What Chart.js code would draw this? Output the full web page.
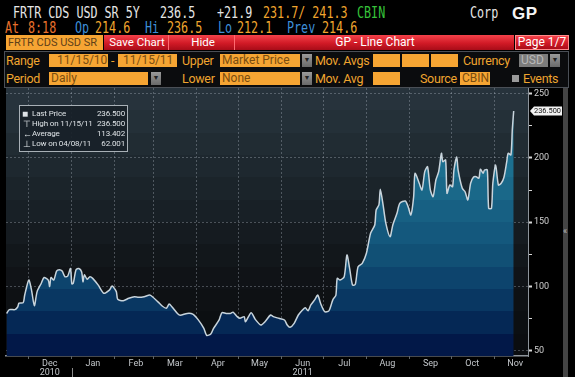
<!DOCTYPE html>
<html lang="en">
  <head>
    <meta charset="UTF-8" />
    <title>FRTR CDS USD SR 5Y - GP Line Chart</title>
    <script src="https://cdn.jsdelivr.net/npm/chart.js"></script>
    <style>
      body {
        margin: 0;
        width: 575px;
        height: 377px;
        background: #000;
        overflow: hidden;
        position: relative;
        font-family: Roboto, sans-serif;
      }
      .m {
        position: absolute;
        font: 15px "DejaVu Sans Mono", monospace;
        line-height: 15px;
        white-space: pre;
        transform: scaleX(0.78);
        transform-origin: 0 0;
      }
      .w { color: #e6e6e6; }
      .o { color: #f0a52e; }
      .r { color: #e8702c; }
      .b { color: #3d8fd8; }
      .g { color: #36c23a; }
      .bar {
        position: absolute;
        top: 35px;
        height: 15px;
        line-height: 15px;
        font-size: 11.5px;
        color: #fff;
        text-align: center;
        background: linear-gradient(#f4424a, #d11a26 55%, #a80c18);
        box-sizing: border-box;
        white-space: nowrap;
      }
      .panel {
        position: absolute;
        left: 4px;
        top: 51px;
        width: 565px;
        height: 37px;
        border: 1px solid #4a4f56;
        box-sizing: border-box;
        background: #0b0c0e;
      }
      .lbl {
        position: absolute;
        height: 13px;
        line-height: 13px;
        font-size: 12.5px;
        letter-spacing: -0.3px;
        color: #f0a52e;
        white-space: pre;
      }
      .box {
        position: absolute;
        height: 13px;
        line-height: 13px;
        font-size: 12px;
        background: #f6a533;
        color: #7a4d10;
        padding-left: 2px;
        box-sizing: border-box;
        white-space: pre;
      }
      .dd {
        position: absolute;
        width: 10px;
        height: 13px;
        background: linear-gradient(#9a9a9a, #6a6a6a);
        font-size: 7px;
        line-height: 13px;
        text-align: center;
        color: #222;
      }
      #legendBox {
        position: absolute;
        left: 19px;
        top: 105px;
        width: 109px;
        height: 47px;
        border: 1px solid #a8b0b6;
        box-sizing: border-box;
        background: rgba(24, 33, 40, 0.92);
        padding: 3px 2px 0 12px;
        font-size: 8px;
        letter-spacing: -0.15px;
        color: #dde2e6;
        z-index: 2;
      }
      #legendBox div {
        position: relative;
        height: 10px;
        line-height: 10px;
        display: flex;
        justify-content: space-between;
        white-space: nowrap;
      }
      #legendBox i {
        position: absolute;
        left: -9px;
        font-style: normal;
        font-size: 9px;
      }
      #chartWrap {
        position: absolute;
        left: 0;
        top: 88px;
        width: 575px;
        height: 289px;
      }
      #scroll {
        position: absolute;
        left: 563px;
        top: 88px;
        width: 5px;
        height: 289px;
        background: #444;
        color: #bbb;
        font-size: 9px;
        z-index: 2;
      }
    </style>
  </head>
  <body>
    <!-- top quote lines -->
    <div class="m w" style="left: 13px; top: 6px">FRTR CDS USD SR 5Y</div>
    <div class="m w" style="left: 160px; top: 6px">236.5</div>
    <div class="m w" style="left: 217px; top: 6px">+21.9</div>
    <div class="m o" style="left: 263px; top: 6px">231.7/ 241.3</div>
    <div class="m g" style="left: 357px; top: 6px">CBIN</div>
    <div class="m w" style="left: 470px; top: 6px">Corp</div>
    <div style="position: absolute; left: 512px; top: 4px; font: bold 17px 'Liberation Sans', Arial, sans-serif; color: #f4f4f4; letter-spacing: 0.5px">GP</div>

    <div class="m r" style="left: 5px; top: 21px">At</div>
    <div class="m r" style="left: 28px; top: 21px">8:18</div>
    <div class="m b" style="left: 75px; top: 21px">Op</div>
    <div class="m o" style="left: 95px; top: 21px">214.6</div>
    <div class="m b" style="left: 145px; top: 21px">Hi</div>
    <div class="m o" style="left: 167px; top: 21px">236.5</div>
    <div class="m b" style="left: 218px; top: 21px">Lo</div>
    <div class="m o" style="left: 237px; top: 21px">212.1</div>
    <div class="m b" style="left: 287px; top: 21px">Prev</div>
    <div class="m o" style="left: 322px; top: 21px">214.6</div>

    <!-- red toolbar -->
    <div class="bar" style="left: 104px; width: 410px"></div>
    <div class="bar" style="left: 6px; width: 97px; background: #f6a533; color: #5e4018; text-align: left; padding-left: 2px; font-size: 11px">FRTR CDS USD SR</div>
    <div class="bar" style="left: 106px; width: 63px; border-right: 1px solid #ff6a70">Save Chart</div>
    <div class="bar" style="left: 172px; width: 63px; border-right: 1px solid #ff6a70">Hide</div>
    <div class="bar" style="left: 237px; width: 276px; background: none; font-size: 12px">GP - Line Chart</div>
    <div class="bar" style="left: 515px; width: 54px; border: 1px solid #ff8a8a; line-height: 13px; font-size: 12px">Page 1/7</div>

    <!-- settings panel -->
    <div class="panel"></div>
    <div class="lbl" style="left: 6px; top: 54px">Range</div>
    <div class="box" style="left: 49px; top: 54px; width: 59px">  11/15/10</div>
    <div class="lbl" style="left: 111px; top: 54px">-</div>
    <div class="box" style="left: 118px; top: 54px; width: 59px"> 11/15/11</div>
    <div class="lbl" style="left: 182px; top: 54px">Upper</div>
    <div class="box" style="left: 220px; top: 54px; width: 80px">Market Price</div>
    <div class="dd" style="left: 302px; top: 54px">▼</div>
    <div class="lbl" style="left: 315px; top: 54px">Mov. Avgs</div>
    <div class="box" style="left: 373px; top: 54px; width: 27px"></div>
    <div class="box" style="left: 402px; top: 54px; width: 27px"></div>
    <div class="box" style="left: 431px; top: 54px; width: 27px"></div>
    <div class="lbl" style="left: 463px; top: 54px">Currency</div>
    <div class="box" style="left: 519px; top: 54px; width: 29px; background: #7c7c7c; color: #b8b8b8">USD</div>
    <div class="dd" style="left: 550px; top: 54px">▼</div>

    <div class="lbl" style="left: 6px; top: 72px">Period</div>
    <div class="box" style="left: 49px; top: 72px; width: 99px">Daily</div>
    <div class="dd" style="left: 151px; top: 72px">▼</div>
    <div class="lbl" style="left: 182px; top: 72px">Lower</div>
    <div class="box" style="left: 220px; top: 72px; width: 80px">None</div>
    <div class="dd" style="left: 302px; top: 72px">▼</div>
    <div class="lbl" style="left: 315px; top: 72px">Mov. Avg</div>
    <div class="box" style="left: 373px; top: 72px; width: 27px"></div>
    <div class="lbl" style="left: 420px; top: 72px">Source</div>
    <div class="box" style="left: 460px; top: 72px; width: 30px">CBIN</div>
    <div style="position: absolute; left: 512px; top: 75px; width: 7px; height: 7px; background: #9a9a9a"></div>
    <div class="lbl" style="left: 523px; top: 72px">Events</div>

    <!-- chart -->
    <div id="chartWrap"><canvas id="cdsChart" width="575" height="289"></canvas></div>

    <div id="legendBox">
      <div><i style="font-size: 10px; left: -10px">■</i><span>Last Price</span><span>236.500</span></div>
      <div><i>⊤</i><span>High on 11/15/11</span><span>236.500</span></div>
      <div><i>←</i><span>Average</span><span>113.402</span></div>
      <div><i>⊥</i><span>Low on 04/08/11</span><span>62.001</span></div>
    </div>
    <div id="scroll"><span style="position: absolute; top: 138px; left: 0">«</span></div>

    <script>
      // days since 11/15/10 and 5Y CDS spread (bp)
      const dayOffsets = [
        0, 2, 6, 8, 9, 12, 13, 16, 18, 20, 22, 25, 27, 30, 31, 32, 34, 36, 38, 40,
        42, 44, 46, 47, 48, 50, 52, 54, 55, 56, 58, 60, 62, 66, 70, 74, 76, 79, 80, 84,
        88, 92, 95, 99, 103, 105, 109, 112, 115, 117, 119, 123, 125, 130, 134, 138, 142, 144, 147, 149,
        153, 155, 158, 161, 163, 166, 168, 171, 172, 176, 179, 183, 186, 190, 192, 196, 200, 202, 204, 207,
        210, 213, 215, 217, 219, 222, 224, 226, 229, 232, 234, 235, 237, 238, 240, 243, 245, 247, 249, 251,
        253, 256, 259, 262, 265, 266, 268, 269, 271, 273, 276, 278, 281, 283, 287, 289, 291, 293, 294, 297,
        299, 301, 303, 305, 307, 309, 311, 313, 314, 316, 317, 319, 321, 322, 324, 325, 328, 330, 332, 334,
        336, 338, 340, 341, 343, 344, 346, 347, 349, 350, 352, 354, 356, 358, 360, 361, 363, 364, 365
      ];
      const cdsSpread = [
        79, 82, 82, 84, 87, 87.4, 93, 105, 97, 85, 96, 102.5, 107, 105, 100, 107, 105, 112, 113, 112,
        107.6, 108, 114, 102, 102.4, 113, 114, 111.5, 103.7, 109, 105.6, 107.6, 106.3, 101, 94.7, 97.2, 100.3, 96, 90, 88.9,
        90.8, 92, 91.6, 92, 93.3, 92, 88, 84.8, 83, 86.3, 84.2, 79, 77.6, 79, 78.5, 74, 67.4, 62.0, 63, 67.4,
        74, 79.6, 79, 79, 80, 76.5, 75.2, 76.5, 72.6, 79.6, 74.4, 70, 72.6, 77.8, 76.5, 75.2, 73.9, 70, 68.2, 71.3,
        77.8, 81.7, 83.5, 81.1, 85.6, 90, 93.3, 86.9, 80.4, 81, 87, 90, 93, 106.3, 105, 107.6, 124.5, 113.5, 101.1, 101.6,
        115.4, 118, 125.8, 141.4, 147.8, 159.5, 163.4, 175.6, 163.4, 149.1, 138.7, 147.8, 156.9, 164.7, 166.5, 162.1, 155.6, 169.8, 188, 180.3,
        175.1, 189.3, 193.2, 175.1, 169.8, 182.8, 189.3, 203.6, 197.1, 198.4, 172.5, 178.9, 177.6, 190.6, 201, 190.6, 176.4, 173.7, 167.3, 180.3,
        185, 185.4, 184.2, 191.2, 188, 190.6, 190.6, 160.8, 160.8, 180.3, 194.5, 178.9, 180.3, 185, 197.1, 203.6, 202.3, 221.8, 236.5
      ];

      // first day of each month, as days since 11/15/10
      const monthStarts = [16, 47, 78, 106, 137, 167, 198, 228, 259, 290, 320, 351];
      const monthLabels = ["Dec", "Jan", "Feb", "Mar", "Apr", "May", "Jun", "Jul", "Aug", "Sep", "Oct", "Nov"];
      const yearLabels = ["2010", "", "", "", "", "", "2011", "", "", "", "", ""];
      const yearBreakDay = 47;
      const yTicks = [50, 75, 100, 125, 150, 175, 200, 225, 250];

      // colour bands of the Bloomberg plot, top to bottom
      const bgBands = ["#27333c", "#243038", "#212c33", "#1e282f", "#1b242a", "#182026",
                       "#151b20", "#12171b", "#101317", "#0e1114", "#0c0f12", "#0b0d10"];
      const fillBands = ["#23809f", "#217b9a", "#1f7594", "#1c6f8f", "#1a6889", "#176083",
                         "#14587d", "#115075", "#0d446d", "#093762", "#052855", "#021848"];

      function bandGradient(ctx, area, bands) {
        const g = ctx.createLinearGradient(0, area.top, 0, area.bottom);
        const n = bands.length;
        bands.forEach((c, i) => {
          g.addColorStop(i / n, c);
          g.addColorStop(Math.min(1, (i + 1) / n - 0.0005), c);
        });
        return g;
      }

      const plotBackground = {
        id: "plotBackground",
        beforeDraw(chart) {
          const { ctx, chartArea } = chart;
          ctx.save();
          ctx.fillStyle = "#000";
          ctx.fillRect(0, 0, chart.width, chart.height);
          ctx.fillStyle = bandGradient(ctx, chartArea, bgBands);
          ctx.fillRect(chartArea.left, chartArea.top, chartArea.right - chartArea.left, chartArea.bottom - chartArea.top);
          ctx.restore();
        },
        afterDraw(chart) {
          const { ctx, chartArea, scales } = chart;
          ctx.save();
          // year separator under Jan
          const xs = Math.round(scales.x.getPixelForValue(yearBreakDay)) + 0.5;
          ctx.strokeStyle = "#8a8a8a";
          ctx.lineWidth = 1;
          ctx.beginPath();
          ctx.moveTo(xs, chartArea.bottom + 12);
          ctx.lineTo(xs, chart.height);
          ctx.stroke();
          // last price tag on the axis
          const last = cdsSpread[cdsSpread.length - 1];
          const y = scales.y.getPixelForValue(last);
          const x = chartArea.right + 2;
          ctx.fillStyle = "#f2f2f2";
          ctx.beginPath();
          ctx.moveTo(x, y);
          ctx.lineTo(x + 4, y - 4.5);
          ctx.lineTo(x + 32, y - 4.5);
          ctx.lineTo(x + 32, y + 4.5);
          ctx.lineTo(x + 4, y + 4.5);
          ctx.closePath();
          ctx.fill();
          ctx.fillStyle = "#111";
          ctx.font = "7.5px Roboto";
          ctx.textBaseline = "middle";
          ctx.fillText(last.toFixed(3), x + 4, y + 0.5, 27);
          ctx.restore();
        },
      };

      Chart.defaults.font.family = "Roboto";

      const ctx = document.getElementById("cdsChart").getContext("2d");
      const chart = new Chart(ctx, {
        type: "line",
        data: {
          datasets: [
            {
              label: "Last Price",
              data: dayOffsets.map((d, i) => ({ x: d, y: cdsSpread[i] })),
              borderColor: "#c8d4dc",
              borderWidth: 1.5,
              pointRadius: 0,
              tension: 0.25,
              fill: "start",
              backgroundColor: (c) => {
                const area = c.chart.chartArea;
                if (!area) return "#114a78";
                return bandGradient(c.chart.ctx, area, fillBands);
              },
            },
          ],
        },
        options: {
          responsive: false,
          animation: false,
          layout: { padding: { left: 6, right: 0, top: 0, bottom: 0 } },
          plugins: { legend: { display: false }, tooltip: { enabled: false } },
          scales: {
            x: {
              type: "linear",
              position: "bottom",
              min: -0.4,
              max: 375.3,
              z: 1,
              afterBuildTicks: (s) => {
                s.ticks = monthStarts.map((v) => ({ value: v }));
              },
              afterFit: (s) => {
                s.height = 21;
                s.paddingLeft = 0;
                s.paddingRight = 0;
              },
              grid: {
                color: "rgba(190,200,210,0.32)",
                tickColor: "rgba(190,200,210,0.5)",
                tickLength: 3,
              },
              border: { display: true, color: "#8d949b", width: 1.5, dash: [2, 2] },
              ticks: {
                autoSkip: false,
                maxRotation: 0,
                labelOffset: 21,
                padding: 0,
                color: "#c4c8cc",
                font: { size: 9, lineHeight: 1.05 },
                callback: (v, i) => (yearLabels[i] ? [monthLabels[i], yearLabels[i]] : monthLabels[i]),
              },
            },
            y: {
              position: "right",
              min: 45.9,
              max: 254.4,
              z: 1,
              afterBuildTicks: (s) => {
                s.ticks = yTicks.map((v) => ({ value: v }));
              },
              afterFit: (s) => {
                s.width = 47;
                s.paddingTop = 0;
                s.paddingBottom = 0;
              },
              grid: {
                color: (c) => (c.tick && c.tick.value % 50 === 0 ? "rgba(190,200,210,0.32)" : "rgba(0,0,0,0)"),
                tickColor: "#d6d6d6",
                tickWidth: (c) => (c.tick && c.tick.value % 50 === 0 ? 2 : 1),
                tickLength: 4,
              },
              border: { display: true, color: "#8d949b", width: 1, dash: [2, 2] },
              ticks: {
                padding: 2,
                color: "#d0d0d0",
                font: { size: 9 },
                callback: (v) => (v % 50 === 0 ? String(v) : ""),
              },
            },
          },
        },
        plugins: [plotBackground],
      });
    </script>
  </body>
</html>
